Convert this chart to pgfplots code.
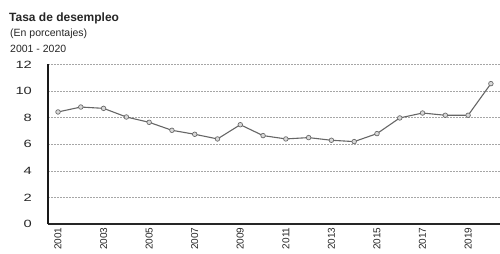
\documentclass[border=0pt]{standalone}
\usepackage{pgfplots}
\pgfplotsset{compat=1.18}
\usepackage{fontspec}
\setmainfont{Liberation Sans}
\begin{document}
\begin{tikzpicture}[x=1pt,y=1pt]
\useasboundingbox (-48,-30) rectangle (452,224);
\node[anchor=base west,font=\bfseries\fontsize{12}{14}\selectfont,inner sep=0,text=black!85] at (-39,202.5) {Tasa de desempleo};
\node[anchor=base west,font=\fontsize{10.5}{12}\selectfont,inner sep=0,text=black!85] at (-38,187) {(En porcentajes)};
\node[anchor=base west,font=\fontsize{10.5}{12}\selectfont,inner sep=0,text=black!85] at (-38,171) {2001 - 2020};
\begin{axis}[
  scale only axis, width=452pt, height=159.5pt,
  xmin=2000.56, xmax=2020.4, ymin=0, ymax=12,
  axis lines=left, axis line style={-},
  x axis line style={black!85,line width=1.2pt},
  y axis line style={black!90,line width=1.8pt},
  xtick={2001,2003,...,2019}, ytick={0,2,...,12},
  xticklabel style={rotate=90,anchor=east,font=\fontsize{10}{12}\selectfont,text=black!85},
  yticklabel style={font=\fontsize{10.5}{12}\selectfont,xscale=1.4,text=black!85,xshift=-8pt},
  /pgf/number format/assume math mode=true,
  /pgf/number format/1000 sep={},
  major tick length=0pt,
  ymajorgrids, grid style={gray!70,dash pattern=on 2pt off 1pt,line width=0.6pt},
  clip=false,
]
\addplot[gray!80!black,line width=1.1pt,mark=*,mark size=2.3pt,mark options={fill=gray!30,draw=gray!85!black,line width=0.7pt}]
coordinates {
(2001,8.43) (2002,8.8) (2003,8.7) (2004,8.05) (2005,7.65) (2006,7.05)
(2007,6.75) (2008,6.4) (2009,7.47) (2010,6.65) (2011,6.4) (2012,6.5)
(2013,6.3) (2014,6.2) (2015,6.8) (2016,7.98) (2017,8.35) (2018,8.18)
(2019,8.18) (2020,10.56)};
\end{axis}
\end{tikzpicture}
\end{document}
